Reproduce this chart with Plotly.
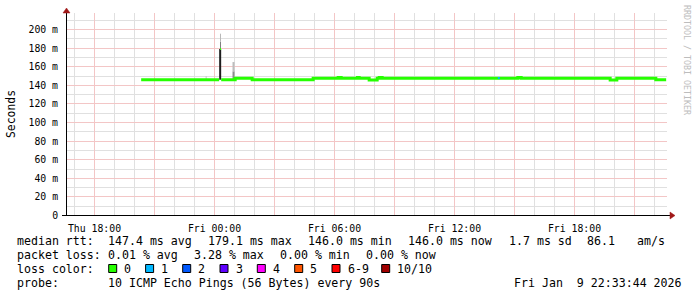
import math
import plotly.graph_objects as go
import pandas as pd

# ---------------- data ----------------
x_start = "2026-01-08 16:37:30"
x_end = "2026-01-09 22:37:30"

# median rtt (ms), step changes; None = gap
median_time = ["2026-01-08 20:20", "2026-01-09 00:14", "2026-01-09 00:15",
               "2026-01-09 00:20", "2026-01-09 01:02", "2026-01-09 01:53",
               "2026-01-09 04:56", "2026-01-09 06:11", "2026-01-09 06:20",
               "2026-01-09 07:09", "2026-01-09 07:14", "2026-01-09 07:44",
               "2026-01-09 08:08", "2026-01-09 08:14", "2026-01-09 08:23",
               "2026-01-09 15:10", "2026-01-09 15:20", "2026-01-09 19:47",
               "2026-01-09 20:07", "2026-01-09 22:04", "2026-01-09 22:35"]
median_ms = [146.0, 146.0, None,
             146.0, 147.5, 146.0,
             147.5, 148.5, 147.5,
             148.5, 147.5, 145.7,
             147.5, 148.5, 147.7,
             148.5, 147.7, 145.7,
             147.7, 146.0, 146.0]

# spike sample median (loss 0)
spike_time = ["2026-01-09 00:16:30", "2026-01-09 00:19:30"]
spike_ms = [179.1, 179.1]

# sample with 1 lost ping
loss1_time = ["2026-01-09 14:10", "2026-01-09 14:16"]
loss1_ms = [147.8, 147.8]

# smoke (ping spread): centre time, base, top, colour shade, width in px
smoke_time = ["2026-01-08 23:35", "2026-01-09 00:17", "2026-01-09 00:18", "2026-01-09 00:18",
              "2026-01-09 00:57", "2026-01-09 00:57"]
smoke_base = [146.0, 146.0, 179.1, 187.0, 146.0, 155.0]
smoke_top = [150.0, 179.1, 187.0, 195.5, 155.0, 165.0]
smoke_shade = ["#c8c8c8", "#1e1e1e", "#808080", "#b8b8b8", "#8c8c8c", "#bcbcbc"]
smoke_px = [1, 2, 1, 1, 2, 2]

y_tickvals = [0, 20, 40, 60, 80, 100, 120, 140, 160, 180, 200]
y_ticktext = ["0", "20 m", "40 m", "60 m", "80 m", "100 m", "120 m", "140 m", "160 m", "180 m", "200 m"]
y_minor = [10, 30, 50, 70, 90, 110, 130, 150, 170, 190, 210]

x_tickvals = ["2026-01-08 18:00", "2026-01-08 21:00", "2026-01-09 00:00", "2026-01-09 03:00",
              "2026-01-09 06:00", "2026-01-09 09:00", "2026-01-09 12:00", "2026-01-09 15:00",
              "2026-01-09 18:00", "2026-01-09 21:00"]
x_ticktext = ["Thu 18:00", "", "Fri 00:00", "", "Fri 06:00", "", "Fri 12:00", "", "Fri 18:00", ""]
x_minor = [t.strftime("%Y-%m-%d %H:%M") for t in
           pd.date_range("2026-01-08 17:00", "2026-01-09 22:00", freq="h")
           if t.hour % 3 != 0]

stats_rtt = ["median rtt:", "147.4 ms avg", "179.1 ms max", "146.0 ms min",
             "146.0 ms now", "1.7 ms sd", "86.1", "am/s"]
stats_loss = ["packet loss:", "0.01 % avg", "3.28 % max", "0.00 % min", "0.00 % now"]
loss_labels = ["0", "1", "2", "3", "4", "5", "6-9", "10/10"]
loss_colors = ["#26ff00", "#00b8ff", "#0059ff", "#5e00ff", "#ff00ff", "#ff5500", "#ff0000", "#a10000"]
probe_text = ["probe:", "10 ICMP Echo Pings (56 Bytes) every 90s",
              "Fri Jan\u00a0\u00a09 22:33:44 2026"]

# ---------------- layout helpers ----------------
W, H = 697, 297
L, R, T, B = 67, 667, 13, 216
PPM = 0.93                      # pixels per ms
Y0 = -0.5 / PPM
Y1 = Y0 + (B - T) / PPM


def pxx(x):
    return (x - L) / (R - L)


def pxy(y):
    return (B - y) / (B - T)


def snap(v):
    """value -> value whose pixel row centre matches rrdtool's rounded grid row"""
    row = math.floor(215.5 - PPM * v)
    return (215 - row) / PPM


MONO = "DejaVu Sans Mono"
MAJOR = "#f3c6c6"
MINOR = "#e0e0e0"
fig = go.Figure()


def vlines(times, color):
    for t in times:
        fig.add_trace(go.Scatter(x=[t, t], y=[Y0, Y1], mode="lines", hoverinfo="skip",
                                 showlegend=False, line=dict(color=color, width=1)))


def hlines(vals, color):
    for v in vals:
        sv = snap(v)
        fig.add_trace(go.Scatter(x=[x_start, x_end], y=[sv, sv], mode="lines",
                                 hoverinfo="skip", showlegend=False,
                                 line=dict(color=color, width=1)))


vlines(x_minor, MINOR)
hlines(y_minor, MINOR)
vlines(x_tickvals, MAJOR)
hlines(y_tickvals[1:], MAJOR)

for t, b0, t1, c, w in zip(smoke_time, smoke_base, smoke_top, smoke_shade, smoke_px):
    fig.add_trace(go.Scatter(x=[t, t], y=[b0, t1], mode="lines", hoverinfo="skip",
                             showlegend=False, line=dict(color=c, width=w)))

fig.add_trace(go.Scatter(x=median_time, y=median_ms, mode="lines", line_shape="hv",
                         connectgaps=False, line=dict(color=loss_colors[0], width=3),
                         showlegend=False))
fig.add_trace(go.Scatter(x=spike_time, y=spike_ms, mode="lines",
                         line=dict(color=loss_colors[0], width=2), showlegend=False))
fig.add_trace(go.Scatter(x=loss1_time, y=loss1_ms, mode="lines",
                         line=dict(color=loss_colors[1], width=2), showlegend=False))

annotations = []
shapes = []


def text(s, x, y, size=11.6, color="#000000", angle=0, xanchor="left"):
    annotations.append(dict(text=s, x=pxx(x), y=pxy(y), xref="paper", yref="paper",
                            xanchor=xanchor, yanchor="middle", showarrow=False,
                            textangle=angle, borderpad=0,
                            font=dict(family=MONO, size=size, color=color)))


# stats lines
for s, x in zip(stats_rtt, [16, 107.3, 207.3, 307.3, 407.3, 507.7, 586, 635.7]):
    text(s, x, 241)
for s, x in zip(stats_loss, [16, 107.3, 192.7, 279.3, 365]):
    text(s, x, 255.5)
text("loss color:", 16, 268.5)
box_x = [108.7, 145.6, 182.7, 220, 257.3, 294.7, 332, 381.7]
for lab, col, bx in zip(loss_labels, loss_colors, box_x):
    shapes.append(dict(type="rect", xref="paper", yref="paper",
                       x0=pxx(bx), x1=pxx(bx + 8), y0=pxy(272.5), y1=pxy(264.5),
                       fillcolor=col, line=dict(color="#000000", width=1)))
    text(lab, bx + 14.6, 268.5)
for s, x in zip(probe_text, [16, 107.3, 513.3]):
    text(s, x, 283)

# axis title and watermark
text("Seconds", 11, 114, size=11.4, angle=-90, xanchor="center")
text("RRDTOOL / TOBI OETIKER", 687, 60, size=8.3, color="#bdbdbd", angle=90, xanchor="center")

# axes lines + arrows
shapes.append(dict(type="line", xref="paper", yref="paper", x0=pxx(62), x1=pxx(671),
                   y0=pxy(215.5), y1=pxy(215.5), line=dict(color="#000000", width=1)))
shapes.append(dict(type="line", xref="paper", yref="paper", x0=pxx(66.5), x1=pxx(66.5),
                   y0=pxy(215.5), y1=pxy(9), line=dict(color="#000000", width=1)))
shapes.append(dict(type="path", xref="paper", yref="paper",
                   path=f"M {pxx(670)} {pxy(212)} L {pxx(675)} {pxy(215.5)} L {pxx(670)} {pxy(219)} Z",
                   fillcolor="#a01818", line=dict(color="#a01818", width=0.5)))
shapes.append(dict(type="path", xref="paper", yref="paper",
                   path=f"M {pxx(63)} {pxy(13)} L {pxx(66.5)} {pxy(8)} L {pxx(70)} {pxy(13)} Z",
                   fillcolor="#a01818", line=dict(color="#a01818", width=0.5)))

fig.update_layout(
    width=W, height=H,
    margin=dict(l=L, r=W - R, t=T, b=H - B, pad=0),
    paper_bgcolor="#ffffff", plot_bgcolor="#ffffff",
    showlegend=False,
    annotations=annotations, shapes=shapes,
    xaxis=dict(type="date", range=[x_start, x_end], tickvals=x_tickvals, ticktext=x_ticktext,
               showgrid=False, ticks="outside", ticklen=3, tickcolor="rgba(0,0,0,0)",
               tickfont=dict(family=MONO, size=9.8, color="#000000"),
               showline=False, zeroline=False, fixedrange=True),
    yaxis=dict(range=[Y0, Y1], tickvals=y_tickvals, ticktext=y_ticktext,
               showgrid=False, ticks="outside", ticklen=6, tickcolor="rgba(0,0,0,0)",
               tickfont=dict(family=MONO, size=9.8, color="#000000"),
               showline=False, zeroline=False, fixedrange=True),
)

fig.write_html("out.html")
